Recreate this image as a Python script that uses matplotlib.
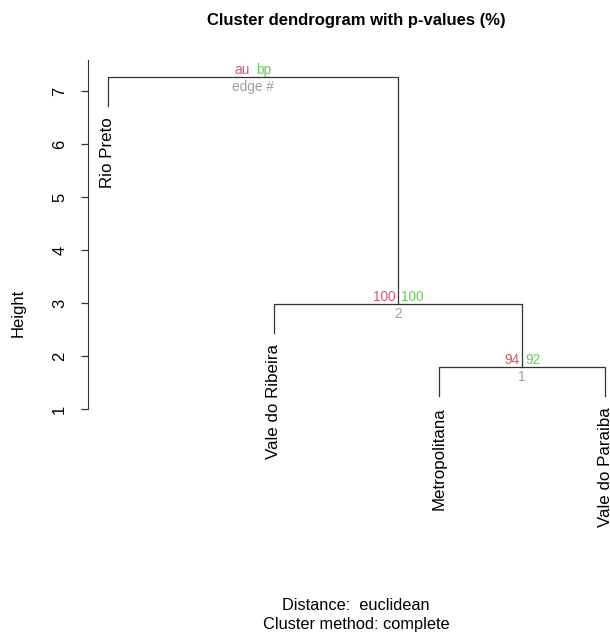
import matplotlib.pyplot as plt

# leaves in plotting order
leaves = ["Rio Preto", "Vale do Ribeira", "Metropolitana", "Vale do Paraiba"]
# hclust-style merge table: negative = leaf index, positive = earlier merge
merge = [(-3, -4), (-2, 1), (-1, 2)]
heights = [1.79, 2.98, 7.26]
au = [94, 100]
bp = [92, 100]
edge = [1, 2]

plt.rcParams['font.family'] = ['Liberation Sans', 'DejaVu Sans']

fig = plt.figure(figsize=(6.10, 6.37), dpi=100)
ax = fig.add_axes([88 / 610, 1 - 420 / 637, 537 / 610, 370 / 637])
ax.set_xlim(0.88, 4.12)
ax.set_ylim(0.792, 7.774)

hang = 0.1 * (max(heights) - min(heights))
xpos = {}
for i in range(len(leaves)):
    xpos[-(i + 1)] = i + 1

line_col = '#333333'
for k, (a, b) in enumerate(merge):
    h = heights[k]
    ends = []
    for c in (a, b):
        if c < 0:
            ends.append(h - hang)
        else:
            ends.append(heights[c - 1])
    xa, xb = xpos[a], xpos[b]
    ax.plot([xa, xa, xb, xb], [ends[0], h, h, ends[1]], color=line_col, lw=0.9)
    xpos[k + 1] = (xa + xb) / 2

    # leaf labels
    for c, yend in zip((a, b), ends):
        if c < 0:
            ax.annotate(leaves[-c - 1], (xpos[c], yend), xytext=(0, -8),
                        textcoords='offset points', rotation=90,
                        ha='center', va='top', fontsize=12.2)

    # p-values
    xm = xpos[k + 1]
    if k < len(au):
        t_au, t_bp, t_e = str(au[k]), str(bp[k]), str(edge[k])
    else:
        t_au, t_bp, t_e = 'au', 'bp', 'edge #'
    ax.annotate(t_au, (xm, h), xytext=(-2, 0), textcoords='offset points',
                ha='right', va='bottom', color='#DF536B', fontsize=9.8)
    ax.annotate(t_bp, (xm, h), xytext=(2, 0), textcoords='offset points',
                ha='left', va='bottom', color='#61D04F', fontsize=9.8)
    ax.annotate(t_e, (xm, h), xytext=(0, -2), textcoords='offset points',
                ha='center', va='top', color='#9E9E9E', fontsize=9.8)

for s in ['top', 'right', 'bottom']:
    ax.spines[s].set_visible(False)
ax.spines['left'].set_bounds(1, 7.58)
ax.spines['left'].set_color(line_col)
ax.set_xticks([])
ax.set_yticks(range(1, 8))
ax.set_yticklabels([str(v) for v in range(1, 8)], rotation=90, va='center')
ax.tick_params(axis='y', length=5, width=0.9, color=line_col, labelsize=12, pad=10)

fig.text(18 / 610, 1 - 313 / 637, 'Height', rotation=90, ha='center', va='center', fontsize=12)
fig.text(356 / 610, 1 - 20 / 637, 'Cluster dendrogram with p-values (%)',
         ha='center', va='center', fontsize=12, weight='bold')
fig.text(356 / 610, 1 - 605 / 637, 'Distance:  euclidean', ha='center', va='center', fontsize=11.8)
fig.text(356 / 610, 1 - 625 / 637, 'Cluster method: complete', ha='center', va='center', fontsize=11.8)

fig.savefig('out.png', dpi=100)
